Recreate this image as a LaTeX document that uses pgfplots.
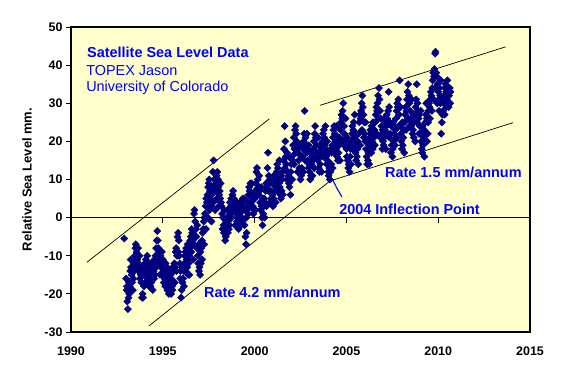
\documentclass[border=0pt]{standalone}
\usepackage{pgfplots}
\pgfplotsset{compat=1.18}
\usepackage{fontspec}
\setmainfont{Liberation Sans}
\definecolor{bgyellow}{RGB}{255,255,204}
\definecolor{navy}{RGB}{0,0,128}
\definecolor{txtblue}{RGB}{0,0,255}
\pgfplotstableread{
x y
1992.90 -5.5
1993.00 -16
1993.03 -19
1993.07 -22
1993.10 -24
1993.13 -21
1993.17 -20
1993.20 -18
1993.23 -14
1993.27 -13
1993.30 -15
1993.33 -17
1993.37 -19
1993.40 -16
1993.43 -12
1993.47 -10
1993.50 -8
1993.53 -7
1993.57 -9
1993.60 -11
1993.63 -13
1993.67 -14
1993.70 -12
1993.73 -10
1993.77 -13
1993.80 -15
1993.83 -17
1993.87 -21
1993.90 -20
1993.93 -21
1993.97 -18
1994.00 -14
1994.03 -12
1994.07 -11
1994.10 -13
1994.13 -15
1994.17 -16
1994.20 -14
1994.23 -12
1994.27 -13
1994.30 -16
1994.33 -18
1994.37 -17
1994.40 -15
1994.43 -13
1994.47 -12
1994.50 -14
1994.53 -16
1994.57 -15
1994.60 -10
1994.63 -8
1994.67 -6
1994.70 -3.5
1994.73 -6
1994.77 -8
1994.80 -9
1994.83 -11
1994.87 -10
1994.90 -13
1994.93 -15
1994.97 -12
1995.00 -11
1995.03 -12
1995.07 -14
1995.10 -16
1995.13 -18
1995.17 -17
1995.20 -15
1995.23 -13
1995.27 -16
1995.30 -19
1995.33 -20
1995.37 -18
1995.40 -17
1995.43 -15
1995.47 -16
1995.50 -18
1995.53 -19
1995.57 -17
1995.60 -14
1995.63 -12
1995.67 -13
1995.70 -9
1995.73 -8
1995.77 -10
1995.80 -5
1995.83 -4
1995.87 -6
1995.90 -10
1995.93 -12
1995.97 -14
1996.00 -21
1996.03 -19
1996.07 -17
1996.10 -16
1996.13 -14
1996.17 -12
1996.20 -10
1996.23 -9
1996.27 -8
1996.30 -11
1996.33 -13
1996.37 -15
1996.40 -12
1996.43 -10
1996.47 -8
1996.50 -6
1996.53 -5
1996.57 -3
1996.60 -4
1996.63 -6
1996.67 -7
1996.70 1
1996.73 2
1996.77 -1
1996.80 -3
1996.83 -5
1996.87 -2
1996.90 -10
1996.93 -12
1996.97 -14
1997.00 -13
1997.03 -15
1997.07 -12
1997.10 -8
1997.13 -6
1997.17 -4
1997.20 -3
1997.23 -1
1997.27 0
1997.30 1
1997.33 3
1997.37 5
1997.40 4
1997.43 6
1997.47 8
1997.50 9
1997.53 10
1997.57 7
1997.60 5
1997.63 3
1997.67 6
1997.70 8
1997.73 12
1997.77 15
1997.80 10
1997.83 8
1997.87 7
1997.90 9
1997.93 11
1997.97 12
1998.00 10
1998.03 8
1998.07 6
1998.10 7
1998.13 5
1998.17 4
1998.20 3
1998.23 1
1998.27 0
1998.30 -2
1998.33 -4
1998.37 -3
1998.40 -6
1998.43 -5
1998.47 -2
1998.50 0
1998.53 2
1998.57 -1
1998.60 -3
1998.63 -2
1998.67 1
1998.70 3
1998.73 5
1998.77 4
1998.80 6
1998.83 7
1998.87 5
1998.90 3
1998.93 2
1998.97 4
1999.00 1
1999.03 -1
1999.07 0
1999.10 -2
1999.13 -3
1999.17 1
1999.20 2
1999.23 4
1999.27 3
1999.30 0
1999.33 -1
1999.37 2
1999.40 3
1999.43 5
1999.47 2
1999.50 -5
1999.53 -7
1999.57 -4
1999.60 2
1999.63 4
1999.67 6
1999.70 8
1999.73 7
1999.77 9
1999.80 6
1999.83 4
1999.87 5
1999.90 3
1999.93 1
1999.97 2
2000.00 5
2000.03 7
2000.07 9
2000.10 12
2000.13 13
2000.17 10
2000.20 8
2000.23 6
2000.27 7
2000.30 4
2000.33 2
2000.37 3
2000.40 0
2000.43 -2
2000.47 1
2000.50 3
2000.53 5
2000.57 4
2000.60 7
2000.63 9
2000.67 8
2000.70 13
2000.73 17
2000.77 11
2000.80 9
2000.83 10
2000.87 7
2000.90 5
2000.93 4
2000.97 6
2001.00 3
2001.03 5
2001.07 7
2001.10 9
2001.13 8
2001.17 10
2001.20 12
2001.23 14
2001.27 13
2001.30 11
2001.33 9
2001.37 8
2001.40 6
2001.43 5
2001.47 7
2001.50 10
2001.53 12
2001.57 15
2001.60 18
2001.63 24
2001.67 20
2001.70 16
2001.73 14
2001.77 17
2001.80 12
2001.83 11
2001.87 9
2001.90 8
2001.93 10
2001.97 12
2002.00 14
2002.03 16
2002.07 15
2002.10 19
2002.13 21
2002.17 18
2002.20 23
2002.23 24
2002.27 22
2002.30 20
2002.33 18
2002.37 17
2002.40 15
2002.43 13
2002.47 12
2002.50 10
2002.53 11
2002.57 13
2002.60 16
2002.63 18
2002.67 20
2002.70 22
2002.73 28
2002.77 21
2002.80 19
2002.83 17
2002.87 18
2002.90 15
2002.93 13
2002.97 14
2003.00 12
2003.03 10
2003.07 11
2003.10 14
2003.13 16
2003.17 15
2003.20 18
2003.23 20
2003.27 22
2003.30 24
2003.33 21
2003.37 19
2003.40 17
2003.43 15
2003.47 16
2003.50 13
2003.53 12
2003.57 14
2003.60 16
2003.63 18
2003.67 17
2003.70 20
2003.73 22
2003.77 23
2003.80 21
2003.83 19
2003.87 18
2003.90 16
2003.93 14
2003.97 15
2004.00 12
2004.03 11
2004.07 13
2004.10 10
2004.13 12
2004.17 14
2004.20 17
2004.23 19
2004.27 21
2004.30 23
2004.33 24
2004.37 22
2004.40 20
2004.43 18
2004.47 19
2004.50 16
2004.53 15
2004.57 17
2004.60 19
2004.63 21
2004.67 23
2004.70 25
2004.73 27
2004.77 26
2004.80 28
2004.83 30
2004.87 24
2004.90 22
2004.93 20
2004.97 21
2005.00 18
2005.03 16
2005.07 15
2005.10 13
2005.13 14
2005.17 12
2005.20 16
2005.23 18
2005.27 20
2005.30 22
2005.33 24
2005.37 23
2005.40 25
2005.43 21
2005.47 19
2005.50 17
2005.53 15
2005.57 16
2005.60 18
2005.63 20
2005.67 22
2005.70 25
2005.73 27
2005.77 26
2005.80 28
2005.83 30
2005.87 32
2005.90 29
2005.93 27
2005.97 25
2006.00 22
2006.03 20
2006.07 18
2006.10 16
2006.13 14
2006.17 15
2006.20 17
2006.23 19
2006.27 21
2006.30 23
2006.33 22
2006.37 24
2006.40 20
2006.43 18
2006.47 19
2006.50 21
2006.53 23
2006.57 25
2006.60 27
2006.63 29
2006.67 28
2006.70 30
2006.73 32
2006.77 34
2006.80 31
2006.83 28
2006.87 26
2006.90 24
2006.93 22
2006.97 23
2007.00 20
2007.03 19
2007.07 21
2007.10 23
2007.13 25
2007.17 24
2007.20 27
2007.23 26
2007.27 28
2007.30 33
2007.33 29
2007.37 25
2007.40 22
2007.43 17
2007.47 19
2007.50 16
2007.53 18
2007.57 20
2007.60 22
2007.63 24
2007.67 23
2007.70 26
2007.73 28
2007.77 30
2007.80 29
2007.83 31
2007.87 27
2007.90 36
2007.93 24
2007.97 22
2008.00 20
2008.03 18
2008.07 19
2008.10 21
2008.13 23
2008.17 25
2008.20 27
2008.23 29
2008.27 28
2008.30 31
2008.33 33
2008.37 35
2008.40 32
2008.43 30
2008.47 28
2008.50 26
2008.53 24
2008.57 25
2008.60 22
2008.63 23
2008.67 21
2008.70 25
2008.73 27
2008.77 29
2008.80 31
2008.83 35
2008.87 30
2008.90 28
2008.93 26
2008.97 27
2009.00 24
2009.03 22
2009.07 20
2009.10 18
2009.13 17
2009.17 19
2009.20 21
2009.23 23
2009.27 22
2009.30 25
2009.33 27
2009.37 26
2009.40 20
2009.43 22
2009.47 28
2009.50 30
2009.53 29
2009.57 31
2009.60 33
2009.63 32
2009.67 34
2009.70 36
2009.73 38
2009.77 37
2009.80 39
2009.83 43
2009.85 43.5
2009.90 38
2009.93 37
2009.97 35
2010.00 33
2010.03 31
2010.07 34
2010.10 32
2010.13 30
2010.17 22
2010.20 25
2010.23 27
2010.27 28
2010.30 30
2010.33 32
2010.37 34
2010.40 35
2010.43 33
2010.47 31
2010.50 36
2010.53 30
2010.57 29
2010.60 32
2010.63 34
2010.67 33
}\sealevel
\pgfplotstableread{
x y
1993.05 -18
1993.15 -17
1993.25 -11
1993.35 -13
1993.45 -14
1993.55 -12
1993.65 -8
1993.75 -16
1993.85 -13
1993.95 -15
1994.05 -17
1994.15 -10
1994.25 -18
1994.35 -12
1994.45 -19
1994.55 -11
1994.65 -13
1994.75 -12
1994.85 -15
1994.95 -9
1995.05 -17
1995.15 -12
1995.25 -19
1995.35 -14
1995.45 -20
1995.55 -13
1995.65 -17
1995.75 -14
1995.85 -9
1995.95 -16
1996.05 -13
1996.15 -18
1996.25 -14
1996.35 -7
1996.45 -15
1996.55 -9
1996.65 -11
1996.75 -5
1996.85 -8
1996.95 -7
1997.05 -9
1997.15 -11
1997.25 -7
1997.35 -3
1997.45 0
1997.55 2
1997.65 -1
1997.75 4
1997.85 2
1997.95 5
1998.05 3
1998.15 9
1998.25 -3
1998.35 2
1998.45 -1
1998.55 -4
1998.65 4
1998.75 0
1998.85 2
1998.95 -2
1999.05 4
1999.15 3
1999.25 -2
1999.35 5
1999.45 -2
1999.55 0
1999.65 1
1999.75 3
1999.85 9
1999.95 6
2000.05 2
2000.15 6
2000.25 11
2000.35 8
2000.45 5
2000.55 0
2000.65 3
2000.75 7
2000.85 4
2000.95 9
2001.05 11
2001.15 4
2001.25 7
2001.35 15
2001.45 11
2001.55 6
2001.65 13
2001.75 10
2001.85 16
2001.95 6
2002.05 10
2002.15 14
2002.25 17
2002.35 12
2002.45 19
2002.55 16
2002.65 12
2002.75 15
2002.85 22
2002.95 19
2003.05 17
2003.15 11
2003.25 13
2003.35 16
2003.45 21
2003.55 19
2003.65 12
2003.75 16
2003.85 24
2003.95 20
2004.05 17
2004.15 18
2004.25 13
2004.35 17
2004.45 24
2004.55 21
2004.65 15
2004.75 20
2004.85 19
2004.95 26
2005.05 21
2005.15 19
2005.25 14
2005.35 18
2005.45 27
2005.55 22
2005.65 14
2005.75 19
2005.85 23
2005.95 21
2006.05 25
2006.15 20
2006.25 14
2006.35 17
2006.45 25
2006.55 19
2006.65 22
2006.75 26
2006.85 21
2006.95 18
2007.05 26
2007.15 18
2007.25 22
2007.35 21
2007.45 24
2007.55 25
2007.65 19
2007.75 21
2007.85 24
2007.95 29
2008.05 25
2008.15 17
2008.25 23
2008.35 26
2008.45 24
2008.55 31
2008.65 27
2008.75 20
2008.85 25
2008.95 22
2009.05 28
2009.15 24
2009.25 16
2009.35 30
2009.45 25
2009.55 26
2009.65 28
2009.75 31
2009.85 34
2009.95 30
2010.05 28
2010.15 36
2010.25 31
2010.35 27
2010.45 29
2010.55 34
2010.65 30
}\sealevelb
\begin{document}
\begin{tikzpicture}
\begin{axis}[
 scale only axis, width=459bp, height=305bp,
 xmin=1990, xmax=2015, ymin=-30, ymax=50,
 xtick={1990,1995,2000,2005,2010,2015},
 xticklabels={1990,1995,2000,2005,2010,2015},
 ytick={-30,-20,-10,0,10,20,30,40,50},
 yticklabels={-30,-20,-10,0,10,20,30,40,50},
 xtick pos=bottom, ytick pos=left,
 tick align=outside,
 major tick length=5bp,
 x tick style={draw=none},
 y tick style={black, line width=0.8bp},
 tick label style={font=\fontsize{12.5}{14}\selectfont\bfseries},
 xticklabel style={yshift=-6bp},
 ylabel={Relative Sea Level mm.},
 every axis y label/.style={at={(axis description cs:-0.0959,0.5)}, rotate=90, anchor=center, font=\fontsize{13}{15}\selectfont\bfseries},
 axis background/.style={fill=bgyellow},
 axis line style={line width=2bp},
]
\addplot[black, line width=1.2bp] coordinates {(1990,0) (2015,0)};
\addplot[black, line width=1bp] coordinates {(1995,0) (1995,-1.3)};
\addplot[black, line width=1bp] coordinates {(2000,0) (2000,-1.3)};
\addplot[black, line width=1bp] coordinates {(2005,0) (2005,-1.3)};
\addplot[black, line width=1bp] coordinates {(2010,0) (2010,-1.3)};
\addplot[black, line width=0.7bp] coordinates {(1990.87,-11.7) (2000.8,25.9)};
\addplot[black, line width=0.7bp] coordinates {(1994.25,-28.4) (2004.1,9.6) (2014.07,24.9)};
\addplot[black, line width=0.7bp] coordinates {(2003.56,29.45) (2013.68,44.8)};
\addplot[only marks, mark=diamond*, mark size=3.6bp, color=navy, mark options={xscale=1.333}] table[x=x,y=y] {\sealevel};
\addplot[only marks, mark=diamond*, mark size=3.6bp, color=navy, mark options={xscale=1.333}] table[x=x,y=y] {\sealevelb};
\addplot[txtblue, line width=1.1bp] coordinates {(2004.27,9.8) (2004.45,8.0) (2004.76,5.4)};
\node[anchor=west, inner sep=0, text=txtblue, font=\fontsize{14.5}{17}\selectfont\bfseries] at (axis cs:1990.87,43.4) {Satellite Sea Level Data};
\node[anchor=west, inner sep=0, text=txtblue, font=\fontsize{14.5}{17}\selectfont] at (axis cs:1990.82,38.7) {TOPEX Jason};
\node[anchor=west, inner sep=0, text=txtblue, font=\fontsize{14.5}{17}\selectfont] at (axis cs:1990.82,34.0) {University of Colorado};
\node[anchor=west, inner sep=0, text=txtblue, font=\fontsize{14.5}{17}\selectfont\bfseries] at (axis cs:2007.1,11.8) {Rate 1.5 mm/annum};
\node[anchor=west, inner sep=0, text=txtblue, font=\fontsize{14.5}{17}\selectfont\bfseries] at (axis cs:1997.24,-19.7) {Rate 4.2 mm/annum};
\node[anchor=west, inner sep=0, text=txtblue, font=\fontsize{14.5}{17}\selectfont\bfseries] at (axis cs:2004.6,2.2) {2004 Inflection Point};
\end{axis}
\path ([xshift=-71bp,yshift=-48bp]current axis.south west) rectangle ([xshift=33bp,yshift=27bp]current axis.north east);
\end{tikzpicture}
\end{document}
